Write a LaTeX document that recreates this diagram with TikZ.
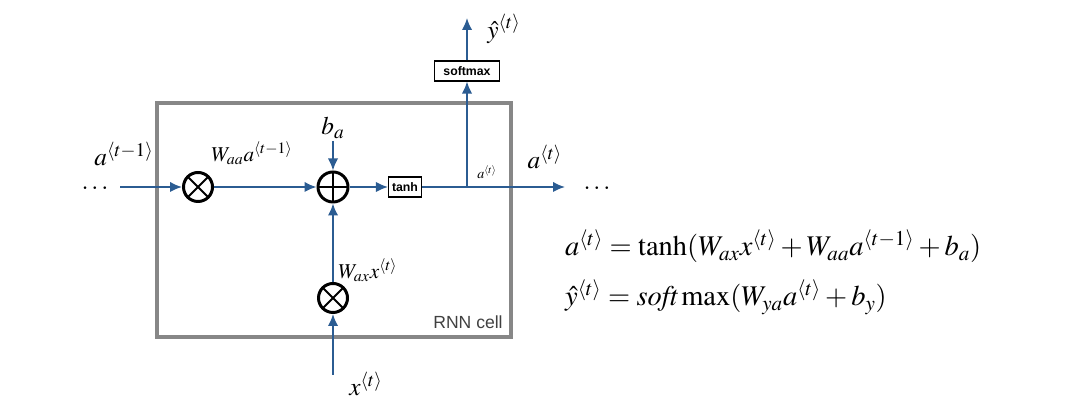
\documentclass[tikz,border=0pt]{standalone}
\usepackage{mathptmx}
\usepackage[no-math]{fontspec}
\setmainfont{Liberation Serif}
\setsansfont{Liberation Sans}
\usetikzlibrary{arrows.meta,positioning}
\definecolor{wire}{HTML}{2B5C92}
\definecolor{cellgray}{HTML}{878787}

\begin{document}
\begin{tikzpicture}[>=Latex,font=\rmfamily]
  \tikzset{
    mulop/.style={circle,draw=black,line width=1.7pt,minimum size=.58cm,inner sep=0pt,
      path picture={\draw[line width=1.1pt] (path picture bounding box.north west)--(path picture bounding box.south east)
        (path picture bounding box.north east)--(path picture bounding box.south west);}},
    addop/.style={circle,draw=black,line width=1.7pt,minimum size=.6cm,inner sep=0pt,
      path picture={\draw[line width=1.1pt] (path picture bounding box.north)--(path picture bounding box.south)
        (path picture bounding box.east)--(path picture bounding box.west);}},
    actbox/.style={draw=black,line width=.6pt,inner sep=2pt,minimum height=.4cm,font=\sffamily\bfseries\scriptsize},
    flow/.style={wire,line width=1.1pt,-{Latex[length=2.4mm,width=2.1mm]}},
    lbl/.style={font=\Large,inner sep=1pt},
    slbl/.style={font=\large,inner sep=1pt},
    eqn/.style={font=\fontsize{16.2}{19}\selectfont,inner sep=1pt,anchor=base west}
  }
  \useasboundingbox (0,0) rectangle (21.6,8.18);

  % RNN cell frame.
  \draw[cellgray,line width=2.3pt] (3.14,6.12) rectangle (10.22,1.44);
  \node[text=black!75,font=\sffamily\normalsize] (cellname) at (9.36,1.74) {RNN cell};

  % Main row.
  \node (ldots) at (1.9,4.4) {\Large$\cdots$};
  \coordinate (ain) at (2.4,4.44);
  \node[mulop] (maa) at (3.96,4.44) {};
  \node[addop] (sum) at (6.66,4.44) {};
  \node[actbox] (act) at (8.1,4.44) {tanh};
  \coordinate (br) at (9.34,4.44);
  \coordinate (aout) at (11.3,4.44);
  \node (rdots) at (11.94,4.4) {\Large$\cdots$};
  \draw[flow] (ain) -- (maa);
  \draw[flow] (maa) -- (sum);
  \draw[flow] (sum) -- (act);
  \draw[flow] (act) -- (aout);

  % Bias.
  \node[lbl] (bias) at (6.66,5.62) {$b_a$};
  \draw[flow] (bias) -- (sum);

  % Input branch.
  \node[mulop] (max) at (6.66,2.22) {};
  \node[lbl] (xin) at (7.32,0.5) {$x^{\langle t\rangle}$};
  \coordinate (xs) at (6.66,0.68);
  \draw[flow] (xs) -- (max);
  \draw[flow] (max) -- (sum);

  % Output branch.
  \node[actbox,minimum width=1.3cm] (smax) at (9.34,6.76) {softmax};
  \coordinate (yout) at (9.34,7.82);
  \draw[flow] (br) -- (smax);
  \draw[flow] (smax) -- (yout);

  % Labels.
  \node[lbl] (aprev) at (2.48,5.1) {$a^{\langle t-1\rangle}$};
  \node[slbl] (waa) at (5.04,5.12) {$W_{aa}a^{\langle t-1\rangle}$};
  \node[slbl] (wax) at (7.36,2.78) {$W_{ax}x^{\langle t\rangle}$};
  \node[font=\footnotesize,inner sep=1pt] (asmall) at (9.74,4.74) {$a^{\langle t\rangle}$};
  \node[lbl] (anext) at (10.9,5.04) {$a^{\langle t\rangle}$};
  \node[lbl] (yhat) at (10.08,7.6) {$\hat{y}^{\langle t\rangle}$};

  % Equations.
  \node[eqn] (eqa) at (11.26,3.06) {$a^{\langle t\rangle}=\tanh(W_{ax}x^{\langle t\rangle}+W_{aa}a^{\langle t-1\rangle}+b_a)$};
  \node[eqn] (eqy) at (11.26,2.06) {$\hat{y}^{\langle t\rangle}=\mathit{soft}\max(W_{ya}a^{\langle t\rangle}+b_y)$};
\end{tikzpicture}
\end{document}
